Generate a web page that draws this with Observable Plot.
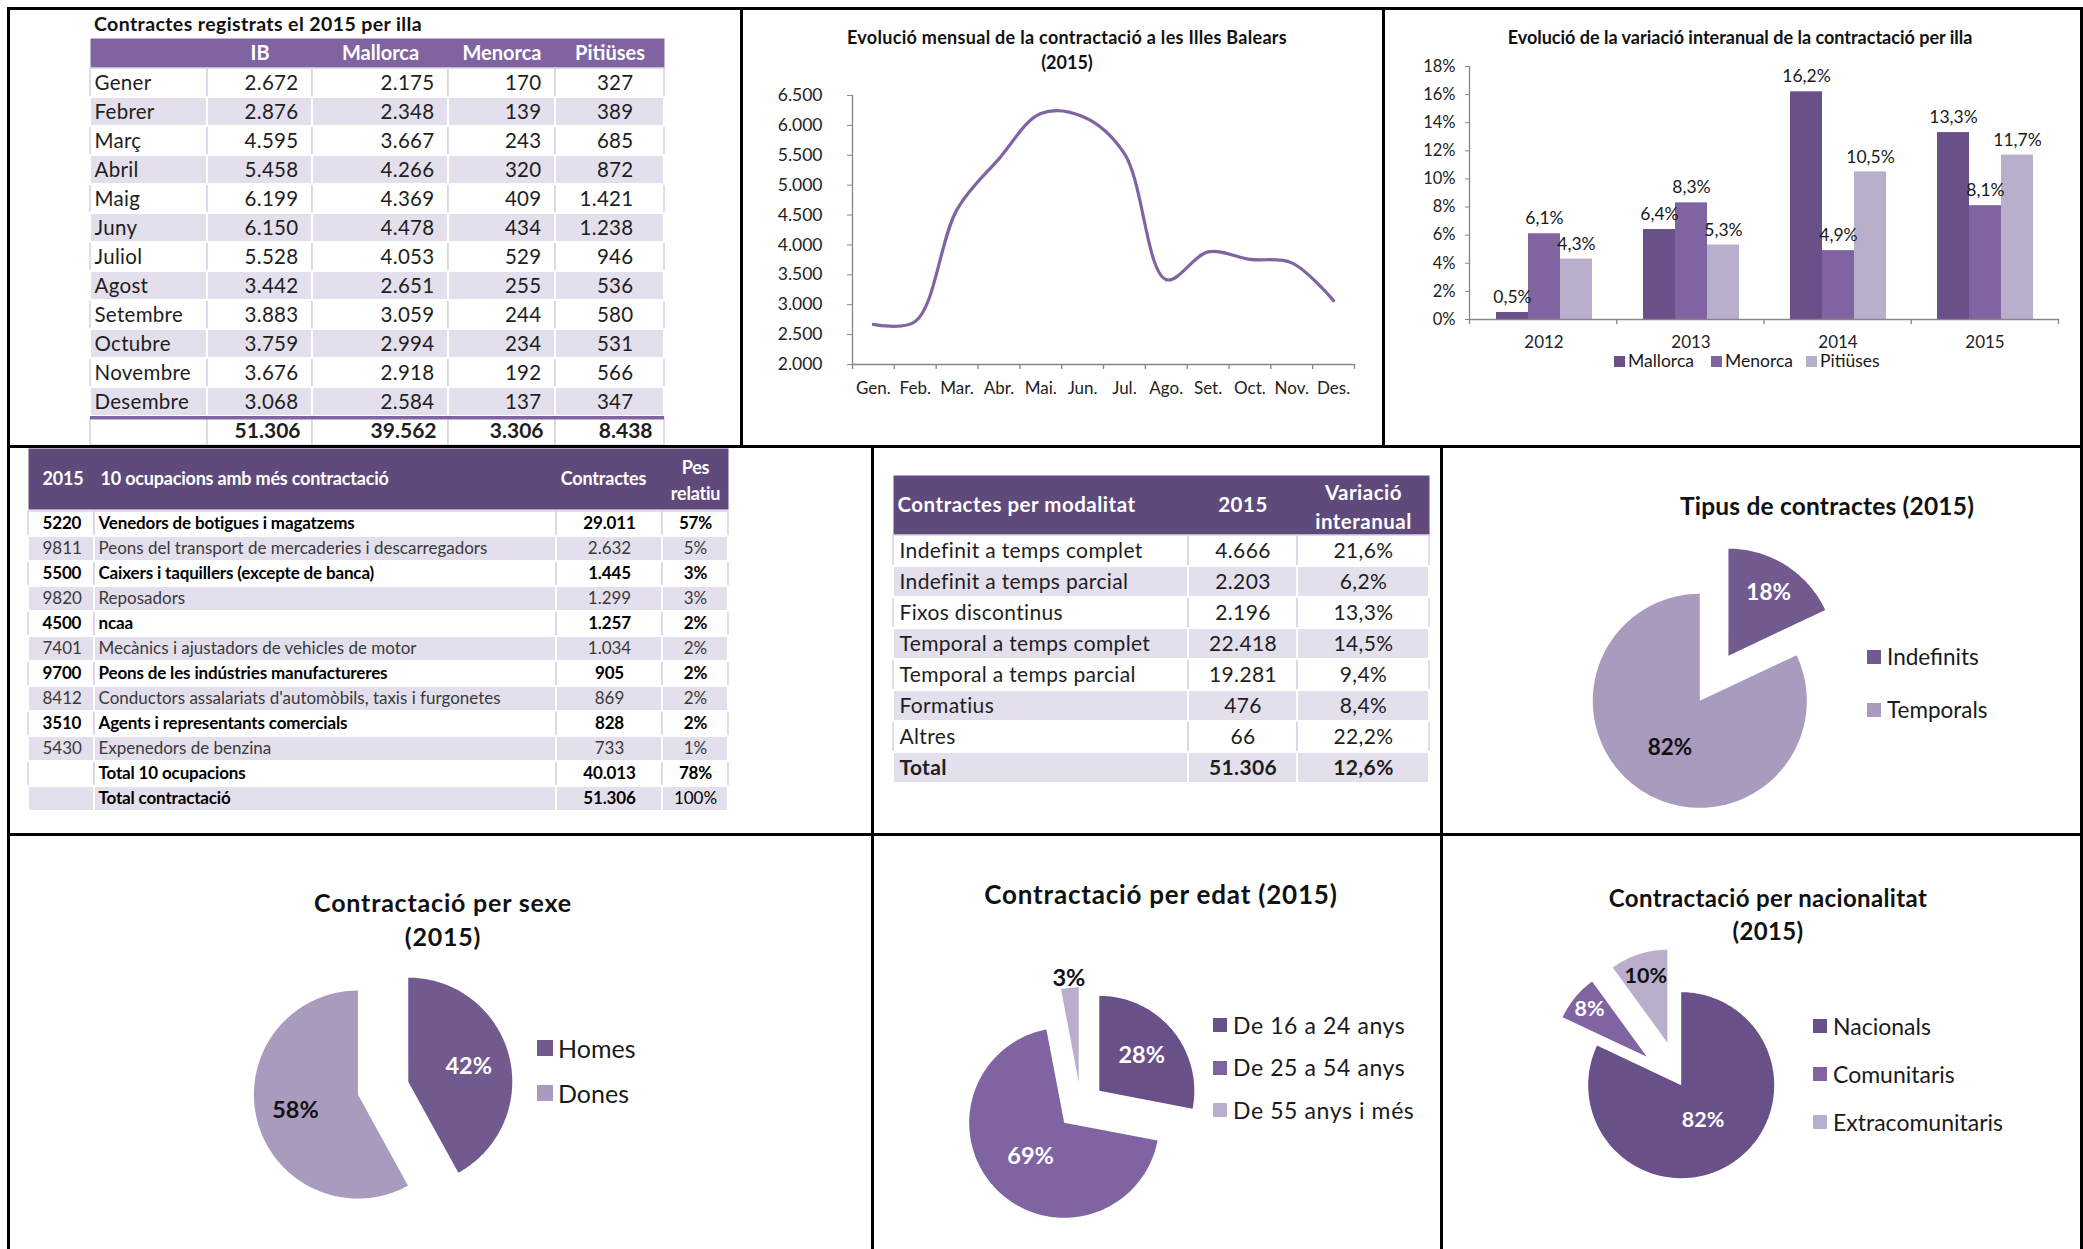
<!DOCTYPE html>
<html><head><meta charset="utf-8">
<script src="https://cdn.jsdelivr.net/npm/d3@7"></script>
<script src="https://cdn.jsdelivr.net/npm/@observablehq/plot@0.6"></script>
<style>
body{margin:0;background:#fff;}
#page{position:relative;width:2083px;height:1249px;overflow:hidden;background:#fff;font-family:Lato,"Open Sans",sans-serif;color:#111;}
.ln{position:absolute;background:#000;}
.t{position:absolute;white-space:pre;line-height:1;}
.sw{position:absolute;}
</style></head><body><div id="page"></div>
<script>
// ---------------- DATA ----------------
const months = ["Gener","Febrer","Març","Abril","Maig","Juny","Juliol","Agost","Setembre","Octubre","Novembre","Desembre"];
const islandCols = ["IB","Mallorca","Menorca","Pitiüses"];
const contractsIB = [2672,2876,4595,5458,6199,6150,5528,3442,3883,3759,3676,3068];
const contractsMallorca = [2175,2348,3667,4266,4369,4478,4053,2651,3059,2994,2918,2584];
const contractsMenorca = [170,139,243,320,409,434,529,255,244,234,192,137];
const contractsPitiuses = [327,389,685,872,1421,1238,946,536,580,531,566,347];
const totals2015 = [51306,39562,3306,8438];

const monthAbbr = ["Gen.","Feb.","Mar.","Abr.","Mai.","Jun.","Jul.","Ago.","Set.","Oct.","Nov.","Des."];
const monthlyLine = [2672,2720,4595,5440,6199,6150,5528,3420,3883,3759,3700,3068];

const barYears = ["2012","2013","2014","2015"];
const barIslands = ["Mallorca","Menorca","Pitiüses"];
const varMallorca = [0.5,6.4,16.2,13.3];
const varMenorca = [6.1,8.3,4.9,8.1];
const varPitiuses = [4.3,5.3,10.5,11.7];

const occCodes = ["5220","9811","5500","9820","4500","7401","9700","8412","3510","5430","",""];
const occNames = ["Venedors de botigues i magatzems","Peons del transport de mercaderies i descarregadors","Caixers i taquillers (excepte de banca)","Reposadors","ncaa","Mecànics i ajustadors de vehicles de motor","Peons de les indústries manufactureres","Conductors assalariats d'automòbils, taxis i furgonetes","Agents i representants comercials","Expenedors de benzina","Total 10 ocupacions","Total contractació"];
const occContracts = [29011,2632,1445,1299,1257,1034,905,869,828,733,40013,51306];
const occShare = [57,5,3,3,2,2,2,2,2,1,78,100];

const modalitats = ["Indefinit a temps complet","Indefinit a temps parcial","Fixos discontinus","Temporal a temps complet","Temporal a temps parcial","Formatius","Altres","Total"];
const modal2015 = [4666,2203,2196,22418,19281,476,66,51306];
const modalVar = [21.6,6.2,13.3,14.5,9.4,8.4,22.2,12.6];

const tipusLabels = ["Indefinits","Temporals"];
const tipusPct = [18,82];
const sexeLabels = ["Homes","Dones"];
const sexePct = [42,58];
const edatLabels = ["De 16 a 24 anys","De 25 a 54 anys","De 55 anys i més"];
const edatPct = [28,69,3];
const nacLabels = ["Nacionals","Comunitaris","Extracomunitaris"];
const nacPct = [82,8,10];

// ---------------- STYLE ----------------
const FONT = "Lato, 'Open Sans', sans-serif";
const AXIS = "#868686";
const PURPLE = "#8064a2";
const DARKP = "#6a5088";
const LIGHTP = "#b9afcc";
const HEAD2 = "#604a7b";
const LAV = "#e4dfec";
const DIV = "#d9d1e4";
const TWO_DARK = "#725a8f", TWO_LIGHT = "#a99bbe";

const fmtInt = d => d3.format(",")(d).replace(/,/g, ".");
const fmtPct1 = d => d.toFixed(1).replace(".", ",") + "%";

const page = document.getElementById("page");
function place(el, x, y) { el.style.position = "absolute"; el.style.left = x + "px"; el.style.top = y + "px"; page.appendChild(el); return el; }
function txt(s, x, y, {size = 16, weight = 400, anchor = "start", color = "#111", ls = 0} = {}) {
  const d = document.createElement("div");
  d.className = "t"; d.textContent = s;
  Object.assign(d.style, {fontSize: size + "px", fontWeight: weight, color, letterSpacing: ls + "px", left: x + "px", top: (y - size * 0.5) + "px"});
  if (anchor === "middle") d.style.transform = "translateX(-50%)";
  else if (anchor === "end") d.style.transform = "translateX(-100%)";
  page.appendChild(d);
  return d;
}
function hline(x, y, w, h) { const d = document.createElement("div"); d.className = "ln"; Object.assign(d.style, {left: x + "px", top: y + "px", width: w + "px", height: h + "px"}); page.appendChild(d); }
function swatchLegend(items, x, y0, dy, {size = 21, sq = 14, gap = 6, ls = 0, horizontal = false, dx = 0} = {}) {
  items.forEach(([label, color], i) => {
    const xx = horizontal ? dx[i] : x, yy = horizontal ? y0 : y0 + i * dy;
    const s = document.createElement("div"); s.className = "sw";
    Object.assign(s.style, {left: xx + "px", top: (yy - sq / 2) + "px", width: sq + "px", height: sq + "px", background: color});
    page.appendChild(s);
    txt(label, xx + sq + gap, yy, {size, color: "#1a1a1a", ls});
  });
}

// ---------------- TABLE HELPER ----------------
function drawTable({left, top, colW, headerH, headerFill, headerCells, headerSize, headerLs = 0, rowH, nRows, cells, rowFill, bodyLs = 0, boldLs = 0, extra = () => []}) {
  const W = d3.sum(colW);
  const edges = [0]; colW.forEach(w => edges.push(edges[edges.length - 1] + w));
  const xOf = c => c.anchor === "start" ? edges[c.col] + c.pad : c.anchor === "end" ? edges[c.col + 1] - c.pad : (edges[c.col] + edges[c.col + 1]) / 2 + (c.pad || 0);
  const hGroups = d3.groups(headerCells, c => c.anchor + "|" + (c.lh || 1));
  const hdr = Plot.plot({
    width: W, height: headerH, margin: 0,
    x: {domain: [0, W], range: [0, W], axis: null},
    style: {background: "transparent", fontFamily: FONT, overflow: "visible", letterSpacing: headerLs + "px"},
    marks: [
      Plot.frame({fill: headerFill, stroke: "none"}),
      ...hGroups.map(([k, cs]) => Plot.text(cs, {x: xOf, text: "text", textAnchor: cs[0].anchor, lineHeight: cs[0].lh || 1, fill: "white", fontWeight: 700, fontSize: headerSize}))
    ]
  });
  place(hdr, left, top);
  const rows = d3.range(nRows);
  const rects = rows.flatMap(r => colW.map((w, c) => ({r, x1: edges[c], x2: edges[c + 1], lav: rowFill(r) !== "white"})));
  const tGroups = d3.groups(cells, c => [c.anchor, c.bold ? 1 : 0, c.color || "#1e1e1e", c.size].join("|"));
  const body = Plot.plot({
    width: W, height: rowH * nRows, margin: 0,
    x: {domain: [0, W], range: [0, W], axis: null},
    y: {type: "band", domain: rows, range: [0, rowH * nRows], padding: 0, axis: null},
    style: {background: "transparent", fontFamily: FONT, overflow: "visible", letterSpacing: bodyLs + "px"},
    marks: [
      Plot.barX(rects.filter(d => !d.lav), {x1: "x1", x2: "x2", y: "r", fill: "white", stroke: DIV, strokeWidth: 1.5}),
      Plot.barX(rects.filter(d => d.lav), {x1: "x1", x2: "x2", y: "r", fill: LAV, stroke: "white", strokeWidth: 2}),
      ...extra(W, rowH),
      ...tGroups.map(([k, cs]) => Plot.text(cs, {x: xOf, y: "r", text: "text", textAnchor: cs[0].anchor, fill: cs[0].color || "#1e1e1e", fontWeight: cs[0].bold ? 700 : 400, fontSize: cs[0].size}))
    ]
  });
  body.querySelectorAll('g[font-weight="700"]').forEach(g => g.setAttribute("letter-spacing", boldLs));
  place(body, left, top + headerH);
}

// ---------------- PANEL 1: table by island ----------------
txt("Contractes registrats el 2015 per illa", 94, 24, {size: 19.5, weight: 700, ls: 0.4});
{
  const cells = [];
  const series = [contractsIB, contractsMallorca, contractsMenorca, contractsPitiuses];
  const pads = [14, 14, 14, 31];
  months.forEach((m, r) => {
    cells.push({r, col: 0, anchor: "start", pad: 4, text: m, size: 20.5});
    series.forEach((arr, j) => cells.push({r, col: j + 1, anchor: "end", pad: pads[j], text: fmtInt(arr[r]), size: 20.5}));
  });
  totals2015.forEach((v, j) => cells.push({r: months.length, col: j + 1, anchor: "end", pad: 12, text: fmtInt(v), bold: true, size: 21}));
  drawTable({
    left: 90, top: 38, colW: [117, 105, 136, 107, 109], headerH: 30, headerFill: PURPLE, headerSize: 20, headerLs: 0,
    headerCells: islandCols.map((c, j) => ({col: j + 1, anchor: "middle", pad: 0, text: c})),
    rowH: 29, nRows: months.length + 1, cells, bodyLs: 0.3,
    rowFill: r => (r < months.length && r % 2 === 1) ? LAV : "white",
    extra: (W, rowH) => [Plot.barX([months.length], {x1: 0, x2: W, y: d => d, fill: PURPLE, insetBottom: rowH - 3.5})]
  });
}

// ---------------- PANEL 2: monthly line ----------------
txt("Evolució mensual de la contractació a les Illes Balears", 1067, 37, {size: 18, weight: 700, anchor: "middle", ls: 0.3});
txt("(2015)", 1067, 62, {size: 18, weight: 700, anchor: "middle"});
{
  const bounds = d3.range(monthAbbr.length + 1).map(i => i - 0.5);
  const svg = Plot.plot({
    width: 642, height: 438, marginLeft: 111, marginRight: 29, marginTop: 86, marginBottom: 83,
    x: {domain: [-0.5, monthAbbr.length - 0.5]},
    y: {domain: [2000, 6500]},
    style: {background: "transparent", fontFamily: FONT, fontSize: "17px", color: "#222", overflow: "visible"},
    marks: [
      Plot.ruleY([2000], {stroke: AXIS, strokeWidth: 1.3}),
      Plot.ruleX([-0.5], {y1: 2000, y2: 6500, stroke: AXIS, strokeWidth: 1.3}),
      Plot.ruleX(bounds, {y1: 2000, y2: 2000, insetBottom: -5, stroke: AXIS, strokeWidth: 1.3}),
      Plot.axisX({ticks: d3.range(monthAbbr.length), tickFormat: i => monthAbbr[i], tickSize: 0, tickPadding: 17, label: null, fontSize: 17}),
      Plot.axisY({ticks: d3.range(2000, 6501, 500), tickFormat: fmtInt, tickSize: 5, tickPadding: 25, label: null, stroke: AXIS, fontSize: 17.5}),
      Plot.line(monthlyLine, {x: (d, i) => i, y: d => d, stroke: PURPLE, strokeWidth: 3.2, curve: "catmull-rom"})
    ]
  });
  place(svg, 741, 9);
}

// ---------------- PANEL 3: grouped bars ----------------
txt("Evolució de la variació interanual de la contractació per illa", 1740, 37, {size: 18, weight: 700, anchor: "middle", ls: 0});
{
  const varSeries = [varMallorca, varMenorca, varPitiuses];
  const barColors = [DARKP, PURPLE, LIGHTP];
  const barData = barYears.flatMap((yr, i) => barIslands.map((isl, j) => ({year: yr, island: isl, value: varSeries[j][i]})));
  const common = {width: 700, height: 438, marginLeft: 86, marginRight: 25, marginTop: 57, marginBottom: 128};
  const a = Plot.plot({
    ...common,
    fx: {domain: barYears, padding: 0},
    x: {type: "band", domain: barIslands, paddingInner: 0, paddingOuter: 0.78, axis: null},
    y: {domain: [0, 18]},
    color: {domain: barIslands, range: barColors},
    style: {background: "transparent", fontFamily: FONT, fontSize: "16px", color: "#222", overflow: "visible"},
    marks: [
      Plot.axisY({ticks: d3.range(0, 19, 2), tickFormat: d => d + "%", tickSize: 5, tickPadding: 10, label: null, stroke: AXIS, fontSize: 16.5}),
      Plot.axisFx({anchor: "bottom", tickSize: 0, tickPadding: 16, label: null, fontSize: 17}),
      Plot.barY(barData, {fx: "year", x: "island", y: "value", fill: "island"}),
      Plot.text(barData, {fx: "year", x: "island", y: "value", text: d => fmtPct1(d.value), dy: -15, fontSize: 17.5, fill: "#1a1a1a"})
    ]
  });
  place(a, 1383, 9);
  const b = Plot.plot({
    ...common,
    x: {domain: [0, barYears.length], axis: null},
    y: {domain: [0, 18], axis: null},
    style: {background: "transparent", overflow: "visible"},
    marks: [
      Plot.ruleY([0], {stroke: AXIS, strokeWidth: 1.3}),
      Plot.ruleX([0], {y1: 0, y2: 18, stroke: AXIS, strokeWidth: 1.3}),
      Plot.ruleX(d3.range(barYears.length + 1), {y1: 0, y2: 0, insetBottom: -5, stroke: AXIS, strokeWidth: 1.3})
    ]
  });
  place(b, 1383, 9);
  swatchLegend(barIslands.map((d, i) => [d, barColors[i]]), 0, 361, 0, {size: 17.5, sq: 11, gap: 3, horizontal: true, dx: [1614, 1711, 1806]});
}

// ---------------- PANEL 4: occupations table ----------------
{
  const cells = [];
  const boldRow = r => r % 2 === 0 || r >= 10;
  occNames.forEach((n, r) => {
    const b = boldRow(r);
    const col = b ? "#000" : "#3a3a3a";
    cells.push({r, col: 0, anchor: "start", pad: 14, text: occCodes[r], bold: b, color: col, size: 17});
    cells.push({r, col: 1, anchor: "start", pad: 4, text: n, bold: b, color: col, size: 17});
    cells.push({r, col: 2, anchor: "middle", pad: 0, text: fmtInt(occContracts[r]), bold: b, color: col, size: 17});
    cells.push({r, col: 3, anchor: "middle", pad: 0, text: occShare[r] + "%", bold: b && r !== 11, color: col, size: 17});
  });
  drawTable({
    left: 28, top: 448, colW: [66, 462, 106, 66], headerH: 61, headerFill: HEAD2, headerSize: 18, headerLs: -0.2,
    headerCells: [
      {col: 0, anchor: "start", pad: 14, text: "2015"},
      {col: 1, anchor: "start", pad: 6, text: "10 ocupacions amb més contractació"},
      {col: 2, anchor: "middle", pad: -6, text: "Contractes"},
      {col: 3, anchor: "middle", pad: 0, text: "Pes\nrelatiu", lh: 1.4}
    ],
    rowH: 25.4, nRows: occNames.length, cells, boldLs: -0.15,
    rowFill: r => r % 2 === 1 ? LAV : "white"
  });
}

// ---------------- PANEL 5: modalitat table ----------------
{
  const cells = [];
  modalitats.forEach((m, r) => {
    const b = r === modalitats.length - 1;
    cells.push({r, col: 0, anchor: "start", pad: 6, text: m, bold: b, size: 21});
    cells.push({r, col: 1, anchor: "middle", pad: 0, text: fmtInt(modal2015[r]), bold: b, size: 21});
    cells.push({r, col: 2, anchor: "middle", pad: 0, text: fmtPct1(modalVar[r]), bold: b, size: 21});
  });
  drawTable({
    left: 893, top: 475, colW: [295, 109, 132], headerH: 60, headerFill: HEAD2, headerSize: 20.5, headerLs: 0.5,
    headerCells: [
      {col: 0, anchor: "start", pad: 4, text: "Contractes per modalitat"},
      {col: 1, anchor: "middle", pad: 0, text: "2015"},
      {col: 2, anchor: "middle", pad: 0, text: "Variació\ninteranual", lh: 1.4}
    ],
    rowH: 31, nRows: modalitats.length, cells, bodyLs: 0.35, boldLs: 0.35,
    rowFill: r => r % 2 === 1 ? LAV : "white"
  });
}

// ---------------- PIE HELPER ----------------
function pie({labels, pct, colors, cx, cy, r, explode, labelR, labelDark, labelSize = 22, D = 1.9}) {
  const arcs = d3.pie().sort(null).value(d => d)(pct);
  const pts = [], lbl = [];
  arcs.forEach((a, i) => {
    const mid = (a.startAngle + a.endAngle) / 2;
    const ox = explode[i] * Math.sin(mid), oy = -explode[i] * Math.cos(mid);
    pts.push({s: labels[i], x: ox, y: oy});
    const n = Math.max(2, Math.ceil((a.endAngle - a.startAngle) / 0.02));
    for (let k = 0; k <= n; k++) {
      const t = a.startAngle + (a.endAngle - a.startAngle) * k / n;
      pts.push({s: labels[i], x: ox + Math.sin(t), y: oy - Math.cos(t)});
    }
    lbl.push({x: ox + labelR[i] * Math.sin(mid), y: oy - labelR[i] * Math.cos(mid), text: pct[i] + "%", dark: labelDark[i]});
  });
  const S = 2 * D * r;
  const svg = Plot.plot({
    width: S, height: S, margin: 0,
    x: {domain: [-D, D], range: [0, S], axis: null},
    y: {domain: [-D, D], range: [0, S], axis: null},
    color: {domain: labels, range: colors},
    style: {background: "transparent", overflow: "visible", fontFamily: FONT},
    marks: [
      Plot.line(pts, {x: "x", y: "y", z: "s", fill: "s", stroke: "none", curve: "linear"}),
      Plot.text(lbl.filter(d => !d.dark), {x: "x", y: "y", text: "text", fill: "white", fontWeight: 700, fontSize: labelSize}),
      Plot.text(lbl.filter(d => d.dark), {x: "x", y: "y", text: "text", fill: "#111", fontWeight: 700, fontSize: labelSize})
    ]
  });
  place(svg, cx - D * r, cy - D * r);
}

// ---------------- PANEL 6: tipus ----------------
txt("Tipus de contractes (2015)", 1827, 506, {size: 24.5, weight: 700, anchor: "middle", ls: 0.2});
{
  const cols = [TWO_DARK, TWO_LIGHT];
  pie({labels: tipusLabels, pct: tipusPct, colors: cols, cx: 1699, cy: 700, r: 107, explode: [0.5, 0], labelR: [0.7, 0.52], labelDark: [false, true], labelSize: 22.5});
  swatchLegend(tipusLabels.map((d, i) => [d, cols[i]]), 1867, 657, 53, {size: 22.5, sq: 14, gap: 6});
}

// ---------------- PANEL 7: sexe ----------------
txt("Contractació per sexe", 443, 902, {size: 25, weight: 700, anchor: "middle", ls: 0.8});
txt("(2015)", 443, 936, {size: 25, weight: 700, anchor: "middle", ls: 0.8});
{
  const cols = [TWO_DARK, TWO_LIGHT];
  pie({labels: sexeLabels, pct: sexePct, colors: cols, cx: 383, cy: 1088, r: 104, explode: [0.25, 0.25], labelR: [0.6, 0.62], labelDark: [false, true], labelSize: 23.5});
  swatchLegend(sexeLabels.map((d, i) => [d, cols[i]]), 537, 1048, 45, {size: 25, sq: 16, gap: 5});
}

// ---------------- PANEL 8: edat ----------------
txt("Contractació per edat (2015)", 1161, 894, {size: 26, weight: 700, anchor: "middle", ls: 0.8});
{
  const cols = [DARKP, PURPLE, LIGHTP];
  pie({labels: edatLabels, pct: edatPct, colors: cols, cx: 1080.6, cy: 1105, r: 95, explode: [0.25, 0.25, 0.25], labelR: [0.58, 0.5, 1.1], labelDark: [false, false, true], labelSize: 23.5});
  swatchLegend(edatLabels.map((d, i) => [d, cols[i]]), 1213, 1025, 42.5, {size: 23, sq: 14, gap: 6, ls: 0.6});
}

// ---------------- PANEL 9: nacionalitat ----------------
txt("Contractació per nacionalitat", 1768, 898, {size: 24, weight: 700, anchor: "middle", ls: 0.35});
txt("(2015)", 1768, 931, {size: 24, weight: 700, anchor: "middle", ls: 0.35});
{
  const cols = [DARKP, PURPLE, LIGHTP];
  pie({labels: nacLabels, pct: nacPct, colors: cols, cx: 1681, cy: 1085, r: 93, explode: [0, 0.48, 0.48], labelR: [0.44, 0.8, 0.75], labelDark: [false, false, true], labelSize: 21.5});
  swatchLegend(nacLabels.map((d, i) => [d, cols[i]]), 1813, 1026, 48, {size: 23, sq: 14, gap: 6});
}

// ---------------- FRAME LINES ----------------
hline(7, 7, 2076, 3); hline(7, 7, 3, 1242); hline(2080, 7, 3, 1242);
hline(7, 445, 2076, 3); hline(7, 833, 2076, 3);
hline(740, 7, 3, 441); hline(1382, 7, 3, 441);
hline(871, 445, 3, 804); hline(1440, 445, 3, 804);
</script>
</body></html>
